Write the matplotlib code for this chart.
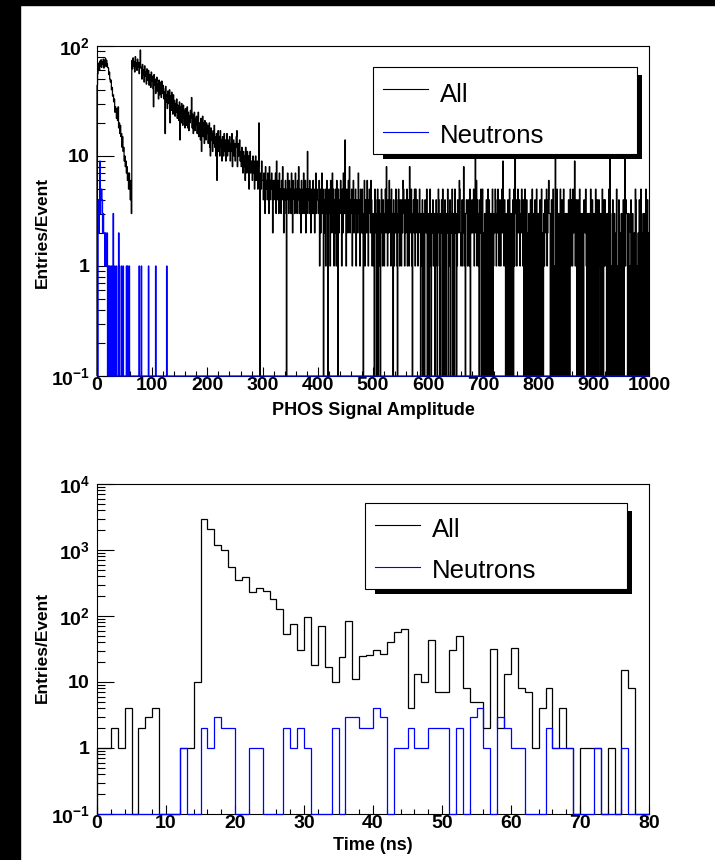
import numpy as np
import matplotlib
matplotlib.use('Agg')
import matplotlib.pyplot as plt
from matplotlib.patches import Rectangle
from matplotlib.lines import Line2D
from matplotlib.ticker import FixedLocator, MultipleLocator, NullFormatter

plt.rcParams['font.family'] = ['Liberation Sans', 'DejaVu Sans']
plt.rcParams['mathtext.fontset'] = 'custom'
plt.rcParams['mathtext.rm'] = 'Liberation Sans'
plt.rcParams['mathtext.bf'] = 'Liberation Sans:bold'

# ---- PHOS signal amplitude, 1000 bins of width 1 ----
# bins 0-62 (first bump, falling into the dip)
amp_all_low = [44, 56, 62, 70, 60, 73, 66, 75, 64, 72,
               68, 76, 63, 74, 70, 77, 65, 74, 69, 64,
               63, 55, 58, 50, 47, 49, 40, 42, 35, 36,
               31, 33, 25, 28, 26, 22, 27, 21, 28, 18,
               20, 16, 19, 15, 16, 12, 15, 11, 12, 9,
               10, 8, 9, 7, 8, 6, 7, 5, 7, 5,
               4, 6, 3]
# bins 63-299
amp_all_mid = [74, 62, 78, 66, 72, 58, 80, 65, 70, 60, 76, 64, 71, 56, 69, 92, 63,
               64, 50, 68, 55, 61, 47, 66, 53, 58, 45, 62, 49, 57, 60, 44, 55, 51, 42, 58, 48,
               53, 41, 28, 55, 44, 50, 37, 48, 52, 39, 45, 33, 49, 36, 47, 42, 34, 48, 37, 44,
               41, 33, 38, 16, 43, 31, 36, 27, 39, 30, 34, 40, 20, 35, 26, 38, 29, 24, 36, 28,
               32, 23, 30, 25, 33, 22, 29, 26, 21, 31, 14, 28, 20, 30, 24, 19, 29, 22, 26, 18,
               27, 19, 24, 28, 18, 25, 17, 23, 20, 26, 22, 34, 18, 24, 16, 21, 25, 17, 22, 19,
               23, 16, 21, 25, 15, 20, 18, 14, 22, 11, 19, 23, 15, 20, 13, 21, 17, 14, 20, 16,
               19, 13, 17, 20, 12, 10, 18, 14, 16, 11, 17, 13, 19, 12, 15, 10, 16, 6, 14, 17,
               11, 15, 10, 17, 12, 14, 9, 15, 12, 10, 16, 11, 14, 9, 13, 16, 10, 14, 11, 13,
               15, 9, 13, 11, 16, 8, 12, 14, 10, 13, 9, 12, 15, 17, 8, 13, 10, 12, 14, 9,
               11, 8, 12, 9, 7, 11, 8, 10, 6, 12, 9, 7, 11, 8, 10, 5, 9, 11, 7, 9,
               8, 6, 10, 7, 9, 5, 8, 10, 6, 7, 9, 5, 8, 20, 6, 0, 7, 5, 9, 6]
# bins 300-999, one base-36 digit per bin, 100 bins per string
amp_all_tail = [
    "6475385647 5384657426 4657394653 7453648525 4630574364 5374265437 4536483542 6435734625 3b45364253 4635247354",
    "4361524735 0425136304 5316427351 4251630524 364152733e 4153263824 3514624351 4327341532 5203614326 3145326413",
    "3105320450 2410352143 1352831426 4215230413 2531045214 3142653142 3512418325 1034251532 4123520314 0310432503",
    "2035103241 2301430254 1032405103 4103250314 0325013052 3014326521 2412831034 3142150324 23514b2614 3104250150",
    "2030140250 4103025013 2541325314 3145293142 0310420510 3024051c34 1352441325 3140250140 2031042050 1304205103",
    "0240150203 1432512463 3014025010 a105203105 2041052031 0310420514 3152391340 2401503103 1043251032 0310520410",
    "3105204014 2031052041 431032050a 3010420310 2501043020 310402b143 3023010420 3102054010 2040150203 0130502402",
]
amp_neutron = {2: 4, 3: 2, 4: 4, 5: 9, 6: 3, 7: 5, 8: 5, 9: 4, 10: 2, 11: 3,
               12: 2, 13: 2, 14: 1, 15: 2, 16: 1, 17: 1, 18: 2, 20: 1, 21: 1,
               23: 1, 26: 1, 29: 3, 32: 1, 35: 1, 39: 2, 40: 1, 44: 1, 47: 1,
               53: 1, 55: 1, 58: 1, 76: 1, 80: 1, 93: 1, 106: 1, 126: 1}

# ---- time spectrum, 80 bins of 1 ns ----
time_all = [1, 1, 2, 1, 4, 0, 2, 3, 4, 0,
            0, 0, 1, 1, 10, 2900, 2080, 1180, 990, 560,
            350, 385, 231, 269, 240, 178, 128, 53, 75, 31,
            98, 18, 71, 17, 10, 24, 85, 11, 25, 26,
            31, 27, 40, 57, 63, 4, 13, 10, 43, 7,
            7, 31, 49, 8, 5, 5, 2, 32, 2, 13,
            33, 8, 7, 1, 4, 8, 1, 4, 1, 0,
            1, 1, 1, 0, 1, 0, 15, 8, 0, 0]
time_neutron = [0, 0, 0, 0, 0, 0, 0, 0, 0, 0,
                0, 0, 1, 0, 0, 2, 1, 3, 2, 2,
                0, 0, 1, 1, 0, 0, 0, 2, 1, 2,
                1, 0, 0, 0, 2, 0, 3, 3, 2, 2,
                4, 3, 0, 1, 1, 2, 1, 1, 2, 2,
                2, 0, 2, 0, 3, 4, 1, 0, 3, 2,
                1, 1, 0, 0, 0, 2, 1, 1, 1, 0,
                0, 0, 1, 0, 0, 0, 1, 0, 0, 0]

tail = "".join(s.replace(" ", "") for s in amp_all_tail)
amp_all = np.array(amp_all_low + amp_all_mid + [int(c, 36) for c in tail], dtype=float)
amp_n = np.zeros(1000)
for k, v in amp_neutron.items():
    amp_n[k] = v
amp_edges = np.arange(0, 1001)
time_edges = np.arange(0, 81)

W, H = 715, 860


def box(x0, y0, x1, y1):
    return [x0 / W, 1 - y1 / H, (x1 - x0) / W, (y1 - y0) / H]


def draw_hist(ax, counts, edges, color):
    counts = np.asarray(counts, dtype=float)
    vals = np.where(counts > 0, counts, 0.1)
    ax.stairs(vals, edges, baseline=0.1, color=color, lw=0.9, zorder=3, clip_on=False)


def style(ax, xmax, xmaj, xmin, ytop):
    ax.set_yscale('log')
    ax.set_xlim(0, xmax)
    ax.set_ylim(0.1, 10 ** ytop)
    xt = np.arange(0, xmax + 1, xmaj)
    ax.set_xticks(xt)
    ax.set_xticklabels([str(int(t)) for t in xt], fontweight='bold', fontsize=14)
    ax.xaxis.set_minor_locator(MultipleLocator(xmin))
    exps = list(range(-1, ytop + 1))
    ax.set_yticks([10.0 ** e for e in exps])
    labs = []
    for e in exps:
        if e == 0:
            labs.append(r'$\mathbf{1}$')
        elif e == 1:
            labs.append(r'$\mathbf{10}$')
        else:
            labs.append(r'$\mathbf{10^{%d}}$' % e)
    ax.set_yticklabels(labs, fontsize=14)
    ax.yaxis.set_minor_locator(FixedLocator([m * 10.0 ** e for e in exps[:-1] for m in range(2, 10)]))
    ax.yaxis.set_minor_formatter(NullFormatter())
    ax.tick_params(which='both', direction='in', top=False, right=False, width=0.8)
    ax.tick_params(axis='y', which='major', length=12, pad=5)
    ax.tick_params(axis='y', which='minor', length=6)
    ax.tick_params(axis='x', which='major', length=6.5, pad=1)
    ax.tick_params(axis='x', which='minor', length=3.3)
    for s in ax.spines.values():
        s.set_linewidth(0.8)


def legend(fig, x0, y0, x1, y1, lines):
    # ROOT style box with a hard black shadow on the right and bottom
    fig.add_artist(Rectangle(((x0 + 10) / W, 1 - (y1 + 5) / H), (x1 - x0 - 5) / W, (y1 - y0 - 3) / H,
                             transform=fig.transFigure, facecolor='k', edgecolor='none', zorder=4))
    fig.add_artist(Rectangle((x0 / W, 1 - y1 / H), (x1 - x0) / W, (y1 - y0) / H,
                             transform=fig.transFigure, facecolor='white', edgecolor='k', lw=0.8, zorder=5))
    for ly, base, color, text in lines:
        fig.add_artist(Line2D([(x0 + 10) / W, (x0 + 55) / W], [1 - ly / H, 1 - ly / H],
                              transform=fig.transFigure, color=color, lw=0.8, zorder=6))
        fig.text((x0 + 67) / W, 1 - base / H, text, fontsize=18.5, va='baseline', ha='left', zorder=6)


fig = plt.figure(figsize=(7.15, 8.6), dpi=100, facecolor='white')
fig.add_artist(Rectangle((0, 0), 20 / W, 1, transform=fig.transFigure, color='k', zorder=0))
fig.add_artist(Rectangle((0, 1 - 5 / H), 1, 5 / H, transform=fig.transFigure, color='k', zorder=0))

ax1 = fig.add_axes(box(97, 46, 649, 376))
style(ax1, 1000, 100, 20, 2)
draw_hist(ax1, amp_all, amp_edges, 'black')
draw_hist(ax1, amp_n, amp_edges, 'blue')
fig.text(373 / W, 1 - 415 / H, 'PHOS Signal Amplitude', fontsize=13, fontweight='bold', ha='center', va='baseline')
fig.text(42 / W, 1 - 232 / H, 'Entries/Event', fontsize=12.5, fontweight='bold', rotation=90, ha='center', va='center')
legend(fig, 373, 67, 637, 154, [(89, 102, 'black', 'All'), (132, 143, 'blue', 'Neutrons')])

ax2 = fig.add_axes(box(97, 484, 649, 814))
style(ax2, 80, 10, 2, 4)
draw_hist(ax2, time_all, time_edges, 'black')
draw_hist(ax2, time_neutron, time_edges, 'blue')
fig.text(373 / W, 1 - 850 / H, 'Time (ns)', fontsize=13, fontweight='bold', ha='center', va='baseline')
fig.text(42 / W, 1 - 647 / H, 'Entries/Event', fontsize=12.5, fontweight='bold', rotation=90, ha='center', va='center')
legend(fig, 365, 503, 627, 589, [(525, 537, 'black', 'All'), (567, 578, 'blue', 'Neutrons')])

fig.savefig('out.png', dpi=100, facecolor='white')
